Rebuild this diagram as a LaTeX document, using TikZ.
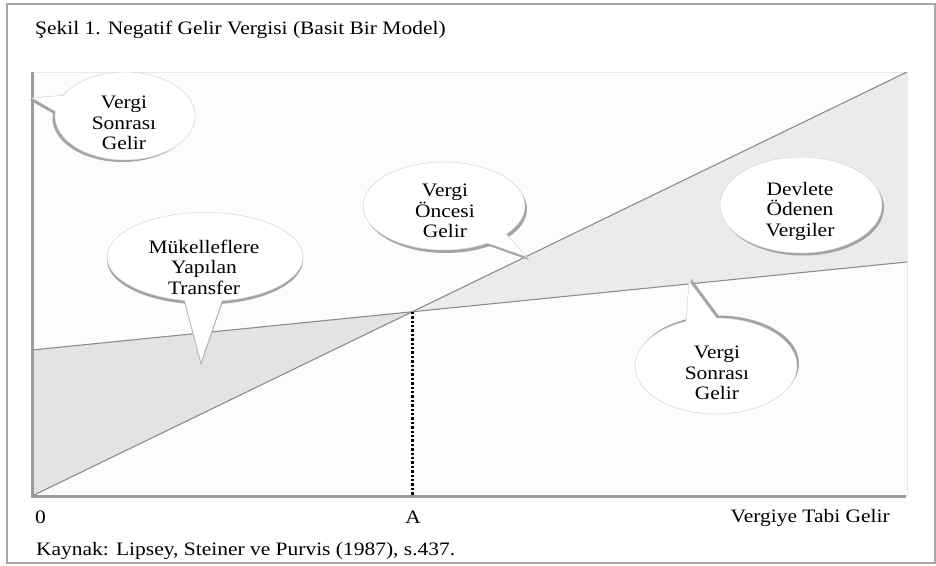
\documentclass[tikz,border=0pt]{standalone}
\usepackage{fontspec}
\usepackage{graphicx}
\setmainfont{Liberation Serif}
\usetikzlibrary{shapes.callouts,shapes.geometric,shadows}
\newcommand{\widetxt}[1]{\scalebox{1.13}[1]{#1}}
\definecolor{framec}{HTML}{A6A6A6}
\definecolor{plotbg}{HTML}{FCFCFC}
\definecolor{topedge}{HTML}{E8E8E8}
\definecolor{shadeL}{HTML}{E3E3E3}
\definecolor{shadeR}{HTML}{EBEBEB}
\definecolor{curvec}{HTML}{8C8C8C}
\definecolor{axisc}{HTML}{9C9C9C}
\definecolor{bubshadow}{HTML}{A3A3A3}
\definecolor{bubline}{HTML}{D4D4D4}
\begin{document}
\begin{tikzpicture}[x=1pt,y=-1pt,
  lbl/.style={font=\fontsize{19}{20.5}\selectfont, inner sep=0pt, text=black},
  bubtext/.style={lbl, align=center},
  shad/.style 2 args={general shadow={fill=bubshadow, shadow xshift=#1, shadow yshift=#2}},
  bubble/.style={ellipse callout, fill=white, draw=bubline, line width=0.5pt, inner sep=0pt, callout pointer arc=22},
  oval/.style={ellipse, fill=white, draw=bubline, line width=0.5pt, inner sep=0pt},
  curveline/.style={draw=curvec, line width=1.1pt},
  axisline/.style={draw=axisc, line width=3pt},
  guide/.style={draw=black, line width=3pt, dash pattern=on 2.4pt off 2pt}
]
\useasboundingbox (0,0) rectangle (936,565);
% frame
\draw[framec, line width=1.5pt] (7,4) rectangle (935,563);
% plot area
\coordinate (O) at (32,496);
\coordinate (P) at (907,72);
\coordinate (S0) at (32,350);
\coordinate (S1) at (907,262);
\coordinate (X) at (intersection of O--P and S0--S1);
\coordinate (Af) at (X |- O);
\path[fill=plotbg] (32,72) rectangle (907,496);
\draw[topedge, line width=0.8pt] (32,72) -- (907,72) -- (907,496);
% shaded regions
\path[fill=shadeL] (O) -- (S0) -- (X) -- cycle;
\path[fill=shadeR] (X) -- (P) -- (S1) -- cycle;
% income lines
\draw[curveline] (O) -- (P);
\draw[curveline] (S0) -- (S1);
% dotted guide
\draw[guide] (X) -- (Af);
% axes
\draw[axisline] (32,72) -- (O) -- (906,496);
% callout tips
\coordinate (t1) at (32,98);
\coordinate (t2) at (201,362);
\coordinate (t3) at (527,257);
\coordinate (t5) at (689,281);
% callouts
\node[bubble, callout absolute pointer={(t1)}, minimum width=140pt, minimum height=88pt, shad={-2.5pt}{-2pt}] (b1) at (125,116) {};
\node[bubtext] (b1t) at (124,123) {\widetxt{Vergi}\\\widetxt{Sonrası}\\\widetxt{Gelir}};
\node[bubble, callout absolute pointer={(t2)}, minimum width=196pt, minimum height=89pt, shad={0pt}{-3pt}] (b2) at (205,257) {};
\node[bubtext] (b2t) at (204,267) {\widetxt{Mükelleflere}\\\widetxt{Yapılan}\\\widetxt{Transfer}};
\node[bubble, callout pointer arc=18, callout absolute pointer={(t3)}, minimum width=162pt, minimum height=88pt, shad={2pt}{-3pt}] (b3) at (444,206) {};
\node[bubtext] (b3t) at (445,211) {\widetxt{Vergi}\\\widetxt{Öncesi}\\\widetxt{Gelir}};
\node[oval, minimum width=162pt, minimum height=96pt, shad={2pt}{-2.5pt}] (b4) at (801,205) {};
\node[bubtext] (b4t) at (800,211) {\widetxt{Devlete}\\\widetxt{Ödenen}\\\widetxt{Vergiler}};
\node[bubble, callout absolute pointer={(t5)}, minimum width=162pt, minimum height=96pt, shad={2pt}{2.5pt}] (b5) at (716,366) {};
\node[bubtext] (b5t) at (717,373) {\widetxt{Vergi}\\\widetxt{Sonrası}\\\widetxt{Gelir}};
% labels
\node[lbl, anchor=base west] (title) at (35,34.5) {\widetxt{Şekil 1. Negatif Gelir Vergisi (Basit Bir Model)}};
\node[lbl, anchor=base] (zero) at (40.5,523) {\widetxt{0}};
\node[lbl, anchor=base] (alab) at (413,523) {\widetxt{A}};
\node[lbl, anchor=base east] (xlab) at (890,522) {\widetxt{Vergiye Tabi Gelir}};
\node[lbl, anchor=base west] (src) at (36,555) {\widetxt{Kaynak: Lipsey, Steiner ve Purvis (1987), s.437.}};
\end{tikzpicture}
\end{document}
